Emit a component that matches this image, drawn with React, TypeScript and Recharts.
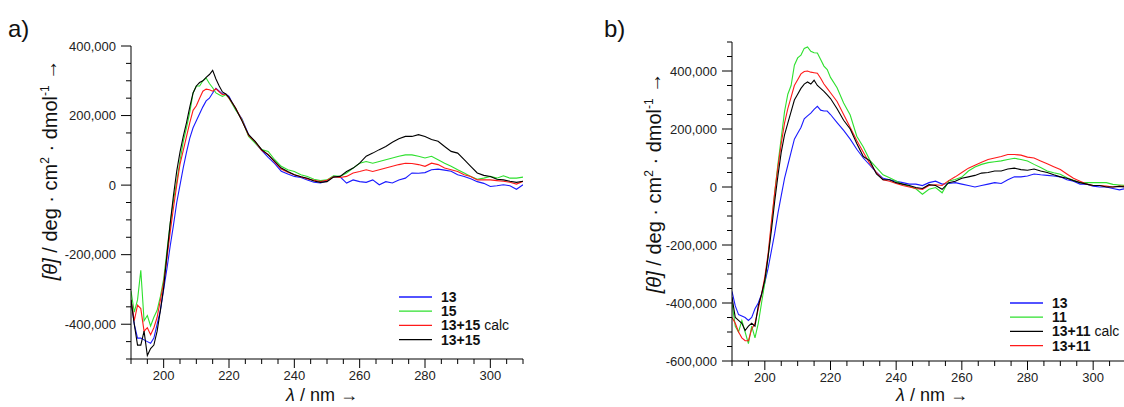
import React from "react";
import { Legend, Line, LineChart, XAxis, YAxis } from "recharts";

const FONT = '"Liberation Sans", Arial, Helvetica, sans-serif';

// wavelength grid (nm): 1 nm steps to 220, then 2 nm steps
const WAVELENGTHS = [
  190, 191, 192, 193, 194, 195, 196, 197, 198, 199, 200, 201, 202, 203, 204, 205, 206, 207, 208, 209, 210,
  211, 212, 213, 214, 215, 216, 217, 218, 219, 220, 222, 224, 226, 228, 230, 232, 234, 236, 238, 240, 242,
  244, 246, 248, 250, 252, 254, 256, 258, 260, 262, 264, 266, 268, 270, 272, 274, 276, 278, 280, 282, 284,
  286, 288, 290, 292, 294, 296, 298, 300, 302, 304, 306, 308, 310
];

// panel a) values in units of 1000 deg·cm²·dmol⁻¹
const A_13 = [
  -330, -400, -440, -440, -445, -450, -455, -440, -400, -360, -300, -240, -175, -115, -50, 0, 50, 95, 135, 165, 185,
  205, 225, 242, 250, 265, 278, 270, 262, 262, 255, 218, 190, 145, 122, 100, 80, 62, 40, 32, 25, 22,
  15, 8, 6, 12, 25, 24, 6, 15, 10, 8, 15, 1, 10, 6, 15, 20, 35, 34, 36, 44, 46,
  43, 40, 30, 25, 18, 10, 5, -4, -2, 1, -2, -12, 1
];
const A_15 = [
  -305, -365, -330, -245, -390, -375, -405, -380, -360, -320, -270, -190, -110, -45, 10, 70, 125, 165, 210, 265, 285,
  285, 300, 308, 292, 280, 265, 260, 255, 260, 250, 217, 188, 140, 121, 102, 97, 73, 54, 44, 39, 30,
  25, 17, 13, 15, 27, 25, 35, 49, 63, 68, 63, 68, 73, 78, 83, 87, 87, 83, 78, 83, 73,
  63, 54, 44, 35, 25, 17, 20, 25, 20, 27, 20, 20, 23
];
const A_CALC = [
  -330, -390, -345, -355, -420, -410, -430, -410, -380, -330, -280, -210, -135, -65, 0, 60, 100, 140, 180, 215, 228,
  250, 270, 276, 274, 270, 277, 268, 260, 262, 250, 222, 186, 143, 125, 100, 88, 66, 46, 37, 30, 24,
  18, 14, 10, 14, 24, 22, 25, 35, 39, 44, 39, 44, 49, 54, 59, 63, 62, 59, 54, 63, 59,
  49, 44, 39, 30, 25, 15, 15, 15, 13, 11, 8, 3, 11
];
const A_MIX = [
  -330, -400, -460, -460, -420, -490, -470, -460, -420, -360, -295, -200, -110, -30, 40, 95, 140, 180, 225, 265, 285,
  295, 300, 310, 318, 330, 305, 285, 268, 262, 252, 222, 184, 145, 126, 102, 87, 68, 49, 39, 30, 24,
  20, 12, 8, 10, 23, 25, 39, 49, 63, 83, 92, 102, 111, 123, 133, 140, 140, 145, 140, 131, 126,
  111, 97, 92, 73, 54, 35, 28, 25, 17, 15, 11, 8, 11
];

// panel b)
const B_13 = [
  -360, -410, -440, -445, -450, -460, -450, -420, -400, -370, -330, -280, -220, -160, -90, -30, 30, 75, 120, 165, 185,
  205, 235, 245, 255, 268, 278, 265, 262, 262, 250, 222, 195, 165, 130, 100, 75, 50, 30, 25, 20, 15,
  10, 10, 5, 15, 20, 10, 12, 15, 10, 5, 0, 5, 10, 15, 12, 25, 35, 35, 38, 45, 42,
  40, 38, 35, 25, 20, 10, 10, 3, 0, 0, -5, -10, -5
];
const B_11 = [
  -400, -480, -500, -460, -500, -540, -480, -520, -470, -400, -330, -240, -130, -20, 80, 170, 260, 320, 350, 420, 445,
  455, 478, 483, 468, 463, 462, 440, 417, 405, 378, 342, 290, 248, 175, 138, 92, 67, 42, 32, 21, 9,
  3, -6, -25, -8, -2, -20, 21, 26, 34, 55, 69, 78, 84, 87, 90, 95, 99, 95, 90, 78, 67,
  55, 49, 44, 32, 23, 15, 15, 15, 15, 15, 9, 7, 5
];
const B_CALC = [
  -380, -450, -460, -470, -495, -480, -470, -480, -410, -370, -320, -240, -150, -50, 40, 120, 180, 220, 260, 300, 320,
  340, 355, 362, 355, 368, 350, 340, 330, 318, 305, 270, 230, 200, 150, 105, 90, 45, 25, 25, 15, 10,
  5, -2, -5, 8, 5, -8, 15, 20, 30, 35, 40, 48, 50, 55, 55, 62, 65, 60, 58, 62, 55,
  50, 42, 35, 30, 22, 15, 10, 5, 5, 0, 0, 2, 0
];
const B_MIX = [
  -450, -470, -500, -520, -530, -530, -490, -470, -420, -370, -310, -230, -120, -20, 70, 150, 220, 270, 310, 350, 370,
  390, 398, 400, 396, 394, 392, 375, 355, 340, 325, 295, 250, 205, 160, 120, 80, 50, 25, 20, 12, 5,
  0, -5, -8, 5, 8, 5, 22, 35, 50, 65, 75, 85, 95, 100, 105, 112, 112, 110, 103, 100, 90,
  80, 70, 60, 45, 30, 20, 10, 5, 5, 3, 0, 3, 2
];

const X_TICKS = [
  190, 195, 200, 205, 210, 215, 220, 225, 230, 235, 240, 245, 250, 255, 260, 265, 270, 275, 280, 285, 290,
  295, 300, 305, 310
];
const Y_TICKS_A = [
  -500000, -450000, -400000, -350000, -300000, -250000, -200000, -150000, -100000, -50000, 0, 50000, 100000,
  150000, 200000, 250000, 300000, 350000, 400000
];
const Y_TICKS_B = [
  -600000, -550000, -500000, -450000, -400000, -350000, -300000, -250000, -200000, -150000, -100000, -50000, 0,
  50000, 100000, 150000, 200000, 250000, 300000, 350000, 400000, 450000, 500000
];

type SeriesDef = { key: string; label: string; note: string; color: string };

const SERIES_A: SeriesDef[] = [
  { key: "s13", label: "13", note: "", color: "#1a1aff" },
  { key: "s15", label: "15", note: "", color: "#2ee02e" },
  { key: "calc", label: "13+15", note: " calc", color: "#ff1a1a" },
  { key: "mix", label: "13+15", note: "", color: "#000000" }
];
const SERIES_B: SeriesDef[] = [
  { key: "s13", label: "13", note: "", color: "#1a1aff" },
  { key: "s11", label: "11", note: "", color: "#2ee02e" },
  { key: "calc", label: "13+11", note: " calc", color: "#000000" },
  { key: "mix", label: "13+11", note: "", color: "#ff1a1a" }
];
// drawing order (last on top)
const ORDER_A = ["s13", "s15", "calc", "mix"];
const ORDER_B = ["s13", "s11", "mix", "calc"];

function buildRows(series: Record<string, number[]>) {
  return WAVELENGTHS.map((wl, i) => {
    const row: Record<string, number> = { wl };
    for (const k of Object.keys(series)) row[k] = series[k][i] * 1000;
    return row;
  });
}

const rowsA = buildRows({ s13: A_13, s15: A_15, calc: A_CALC, mix: A_MIX });
const rowsB = buildRows({ s13: B_13, s11: B_11, calc: B_CALC, mix: B_MIX });

function XTick({ x, y, payload }: any) {
  const major = payload.value % 20 === 0;
  return (
    <g>
      <line x1={x} x2={x} y1={y} y2={y + (major ? 9 : 5)} stroke="#000" strokeWidth={1} />
      {major && (
        <text x={x} y={y + 21} textAnchor="middle" fontSize={13} fill="#222" fontFamily={FONT}>
          {payload.value}
        </text>
      )}
    </g>
  );
}

function YTick({ x, y, payload }: any) {
  const major = payload.value % 200000 === 0;
  return (
    <g>
      <line x1={x} x2={x - (major ? 10 : 5)} y1={y} y2={y} stroke="#000" strokeWidth={1} />
      {major && (
        <text x={x - 15} y={y} dy="0.36em" textAnchor="end" fontSize={13} fill="#222" fontFamily={FONT}>
          {payload.value.toLocaleString("en-US")}
        </text>
      )}
    </g>
  );
}

function LegendBox({ items }: { items: SeriesDef[] }) {
  return (
    <svg width={150} height={62} style={{ display: "block" }}>
      {items.map((s, i) => (
        <g key={i}>
          <line x1={0} x2={33} y1={7 + i * 14.2} y2={7 + i * 14.2} stroke={s.color} strokeWidth={1.3} />
          <text x={42} y={7 + i * 14.2} dy="0.36em" fontSize={14} fill="#111" fontFamily={FONT}>
            <tspan fontWeight="bold">{s.label}</tspan>
            <tspan>{s.note}</tspan>
          </text>
        </g>
      ))}
    </svg>
  );
}

type PanelProps = {
  rows: Record<string, number>[];
  series: SeriesDef[];
  order: string[];
  yDomain: [number, number];
  yTicks: number[];
  left: number;
  width: number;
  margin: { top: number; right: number; bottom: number; left: number };
  yAxisWidth: number;
  xAxisHeight: number;
  legendPos: { left: number; top: number };
};

function Panel(p: PanelProps) {
  return (
    <div style={{ position: "absolute", left: p.left, top: 0 }}>
      <LineChart width={p.width} height={407} data={p.rows} margin={p.margin}>
        <XAxis
          type="number"
          dataKey="wl"
          domain={[190, 310]}
          ticks={X_TICKS}
          interval={0}
          tickSize={0}
          tickMargin={0}
          tickLine={false}
          tick={<XTick />}
          height={p.xAxisHeight}
          axisLine={{ stroke: "#000", strokeWidth: 1 }}
          allowDataOverflow
        />
        <YAxis
          type="number"
          domain={p.yDomain}
          ticks={p.yTicks}
          interval={0}
          tickSize={0}
          tickMargin={0}
          tickLine={false}
          tick={<YTick />}
          width={p.yAxisWidth}
          axisLine={{ stroke: "#000", strokeWidth: 1 }}
          allowDataOverflow
        />
        <Legend
          layout="horizontal"
          verticalAlign="middle"
          align="center"
          wrapperStyle={{ left: p.legendPos.left, top: p.legendPos.top, width: 150, height: 62 }}
          content={() => <LegendBox items={p.series} />}
        />
        {p.order.map((k) => {
          const s = p.series.find((d) => d.key === k)!;
          return (
            <Line
              key={k}
              type="linear"
              dataKey={k}
              stroke={s.color}
              strokeWidth={1.1}
              dot={false}
              activeDot={false}
              isAnimationActive={false}
              legendType="none"
            />
          );
        })}
      </LineChart>
    </div>
  );
}

function YTitle({ x, y }: { x: number; y: number }) {
  return (
    <text transform={`translate(${x},${y}) rotate(-90)`} textAnchor="middle" fontSize={20} fill="#111" fontFamily={FONT}>
      <tspan fontStyle="italic">[θ]</tspan>
      <tspan> / deg · cm</tspan>
      <tspan fontSize={12} dy={-8}>2</tspan>
      <tspan dy={8}> · dmol</tspan>
      <tspan fontSize={12} dy={-8}>-1</tspan>
      <tspan dy={8}> →</tspan>
    </text>
  );
}

function XTitle({ x, y }: { x: number; y: number }) {
  return (
    <text x={x} y={y} textAnchor="middle" fontSize={18} fill="#111" fontFamily={FONT}>
      <tspan fontStyle="italic">λ</tspan>
      <tspan> / nm →</tspan>
    </text>
  );
}

export default function App() {
  return (
    <div
      style={{
        position: "absolute",
        left: 0,
        top: 0,
        width: 1124,
        height: 407,
        overflow: "hidden",
        background: "#fff"
      }}
    >
      <Panel
        rows={rowsA}
        series={SERIES_A}
        order={ORDER_A}
        yDomain={[-500000, 400000]}
        yTicks={Y_TICKS_A}
        left={0}
        width={540}
        margin={{ top: 46, right: 17, bottom: 0, left: 0 }}
        yAxisWidth={131}
        xAxisHeight={48}
        legendPos={{ left: 399, top: 290 }}
      />
      <Panel
        rows={rowsB}
        series={SERIES_B}
        order={ORDER_B}
        yDomain={[-600000, 500000]}
        yTicks={Y_TICKS_B}
        left={560}
        width={590}
        margin={{ top: 42, right: 24, bottom: 0, left: 0 }}
        yAxisWidth={172}
        xAxisHeight={46}
        legendPos={{ left: 450, top: 296 }}
      />
      <svg width={1124} height={407} style={{ position: "absolute", left: 0, top: 0, pointerEvents: "none" }}>
        <text x={8} y={37} fontSize={24} fill="#111" fontFamily={FONT}>a)</text>
        <text x={604} y={37} fontSize={24} fill="#111" fontFamily={FONT}>b)</text>
        <YTitle x={57} y={170} />
        <YTitle x={661} y={183} />
        <XTitle x={322} y={401} />
        <XTitle x={932} y={401} />
      </svg>
    </div>
  );
}
